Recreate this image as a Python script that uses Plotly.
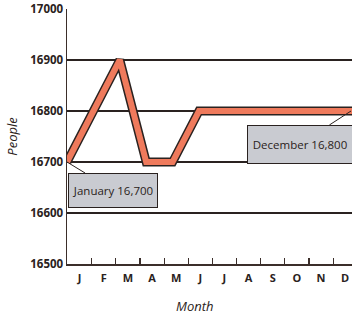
import plotly.graph_objects as go

# ---- data ----
month_labels = ["J", "F", "M", "A", "M", "J", "J", "A", "S", "O", "N", "D"]
month_names = ["January", "February", "March", "April", "May", "June", "July",
               "August", "September", "October", "November", "December"]
people = [16700, 16800, 16900, 16700, 16700, 16800, 16800, 16800, 16800, 16800, 16800, 16800]
y_ticks = [16500, 16600, 16700, 16800, 16900, 17000]

month_idx = list(range(len(people)))

# ---- layout constants ----
W, H = 352, 317
ML, MR, MT, MB = 67, 0, 9, 53
plot_w = W - ML - MR
px_per_point = 26.4          # horizontal spacing of the line's points (px)
px_per_tick = 24.15          # horizontal spacing of the month ticks (px)
x_max = plot_w / px_per_point
tick_step = px_per_tick / px_per_point
tick_pos = [0.02 + k * tick_step for k in range(len(month_labels))]

dark = "#2a2220"
axis_col = "#3b2e2a"
orange = "#EF7A5C"
callout_fill = "#C9CBD1"
font_family = "Open Sans, Noto Sans, DejaVu Sans, sans-serif"

fig = go.Figure()
# dark outline of the thick line
fig.add_trace(go.Scatter(x=month_idx, y=people, mode="lines",
                         line=dict(color=dark, width=9), hoverinfo="skip",
                         showlegend=False))
# orange core
fig.add_trace(go.Scatter(x=month_idx, y=people, mode="lines",
                         line=dict(color=orange, width=6), hoverinfo="skip",
                         showlegend=False))

fig.update_layout(
    width=W, height=H,
    margin=dict(l=ML, r=MR, t=MT, b=MB, pad=0),
    paper_bgcolor="white", plot_bgcolor="white",
    font=dict(family=font_family, color=dark),
    showlegend=False,
    xaxis=dict(
        range=[0, x_max], tickmode="array", tickvals=tick_pos,
        ticktext=month_labels, ticklabelshift=12, ticklabelstandoff=3,
        ticks="inside", ticklen=6, tickwidth=1.2, tickcolor=axis_col,
        showgrid=False, zeroline=False,
        showline=True, linecolor=axis_col, linewidth=1.5,
        tickfont=dict(size=11, family=font_family, weight="bold", color=dark),
        fixedrange=True,
    ),
    yaxis=dict(
        range=[16500, 17000], tickmode="array", tickvals=y_ticks,
        ticktext=[str(v) for v in y_ticks],
        ticks="", showgrid=True, gridcolor=dark, gridwidth=1.4,
        zeroline=False, showline=True, linecolor=axis_col, linewidth=1.5,
        tickfont=dict(size=11.5, family=font_family, weight="bold", color=dark),
        title=dict(text="People", standoff=10,
                   font=dict(size=13, family=font_family, style="italic", color=dark)),
        fixedrange=True,
    ),
)

# x axis title
fig.add_annotation(text="Month", xref="paper", yref="paper",
                   x=(194 - ML) / plot_w, y=0, yshift=-42,
                   showarrow=False, xanchor="center", yanchor="middle",
                   font=dict(size=13, family=font_family, style="italic", color=dark))

# callouts
fig.add_annotation(x=month_idx[0], y=people[0], xref="x", yref="y",
                   text=f"{month_names[0]} {people[0]:,}",
                   showarrow=True, arrowhead=0, arrowwidth=1, arrowcolor=dark,
                   ax=46, ay=28, width=84, height=29, borderpad=2,
                   bgcolor=callout_fill, bordercolor=dark, borderwidth=1,
                   font=dict(size=11.5, family=font_family, color=dark))
fig.add_annotation(x=1.0, y=people[-1], xref="paper", yref="y",
                   text=f"{month_names[-1]} {people[-1]:,}",
                   showarrow=True, arrowhead=0, arrowwidth=1, arrowcolor=dark,
                   ax=-52, ay=33, width=100, height=33, borderpad=2,
                   bgcolor=callout_fill, bordercolor=dark, borderwidth=1,
                   font=dict(size=11.5, family=font_family, color=dark))

fig.write_html("out.html",
               config={"displayModeBar": False, "staticPlot": True},
               post_script="document.body.style.margin='0px';document.body.style.overflow='hidden';")
